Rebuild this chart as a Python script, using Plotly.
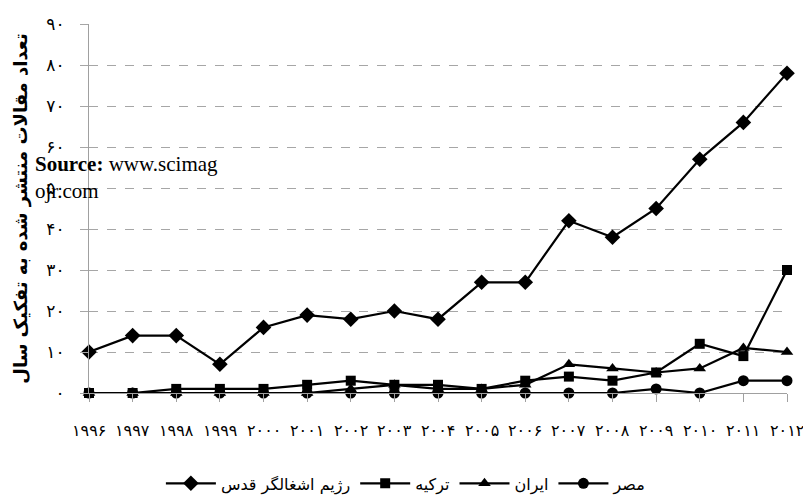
import plotly.graph_objects as go

years = list(range(1996, 2013))
fa_digits = str.maketrans("0123456789", "۰۱۲۳۴۵۶۷۸۹")
year_labels = [str(y).translate(fa_digits) for y in years]

israel = [10, 14, 14, 7, 16, 19, 18, 20, 18, 27, 27, 42, 38, 45, 57, 66, 78]
turkey = [0, 0, 1, 1, 1, 2, 3, 2, 2, 1, 3, 4, 3, 5, 12, 9, 30]
iran = [0, 0, 0, 0, 0, 0, 1, 2, 1, 1, 2, 7, 6, 5, 6, 11, 10]
egypt = [0, 0, 0, 0, 0, 0, 0, 0, 0, 0, 0, 0, 0, 1, 0, 3, 3]

series_names = ["رژیم اشغالگر قدس", "ترکیه", "ایران", "مصر"]
series_values = [israel, turkey, iran, egypt]
symbols = ["diamond", "square", "triangle-up", "circle"]
sizes = [12, 10, 11, 11]

y_ticks = list(range(0, 100, 10))
y_labels = [str(v).translate(fa_digits) for v in y_ticks]

FONT = "Liberation Serif, DejaVu Sans, serif"

fig = go.Figure()
x_idx = list(range(len(years)))
for name, vals, sym, sz in zip(series_names, series_values, symbols, sizes):
    fig.add_trace(go.Scatter(
        x=x_idx, y=vals, name=name, mode="lines+markers",
        line=dict(color="black", width=2.2),
        marker=dict(symbol=sym, size=sz, color="black"),
        cliponaxis=False,
    ))

fig.update_layout(
    width=803, height=501,
    margin=dict(l=89, r=16, t=24, b=108, autoexpand=False),
    paper_bgcolor="white", plot_bgcolor="white",
    font=dict(family=FONT, color="black", size=13),
    showlegend=True,
    legend=dict(orientation="h", x=0.454, xanchor="center", y=-0.245, yanchor="middle",
                font=dict(family="DejaVu Sans, sans-serif", size=16), itemwidth=50,
                traceorder="normal"),
    xaxis=dict(
        range=[0, 16], tickmode="array", tickvals=x_idx, showticklabels=False,
        showgrid=False, zeroline=False, showline=True, linecolor="#a0a0a0", linewidth=1,
        ticks="outside", ticklen=8, tickcolor="#a0a0a0",
    ),
    yaxis=dict(
        range=[0, 90], tickmode="array", tickvals=y_ticks, ticktext=y_labels,
        showgrid=True, gridcolor="#a6a6a6", griddash="dash", gridwidth=1,
        zeroline=False, showline=True, linecolor="#a0a0a0", linewidth=1,
        ticks="outside", ticklen=8, tickcolor="#a6a6a6", ticklabelstandoff=12,
        tickfont=dict(size=17, family=FONT),
        title=dict(text="<b>تعداد مقالات منتشر شده به تفکیک سال</b>",
                   font=dict(family="DejaVu Sans, sans-serif", size=18), standoff=14),
    ),
)

# year labels placed below the axis at the category positions
for xi, lab in zip(x_idx, year_labels):
    fig.add_annotation(
        x=xi, xref="x", y=(393 - 430) / 369, yref="paper",
        xanchor="center", yanchor="middle", showarrow=False,
        text=lab, font=dict(size=16, family=FONT, color="black"),
    )

fig.add_annotation(
    xref="paper", yref="paper", x=(33 - 89) / 698, y=(393 - 177) / 369,
    xanchor="left", yanchor="middle", align="left", showarrow=False,
    text="<b>Source:</b> www.scimag<br>ojr.com",
    font=dict(family="Liberation Serif, serif", size=21, color="black"),
)

fig.write_html("out.html")
